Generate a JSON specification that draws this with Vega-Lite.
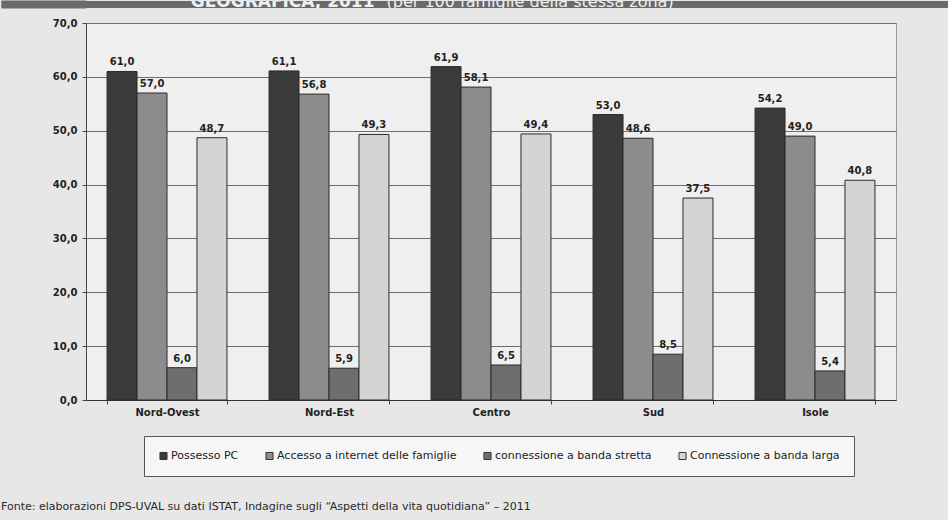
{
  "$schema": "https://vega.github.io/schema/vega-lite/v6.json",
  "background": "#e7e7e7",
  "padding": {"left": 0, "top": 0, "right": 0, "bottom": 8},
  "config": {
    "locale": {"number": {"decimal": ",", "thousands": ".", "grouping": [3], "currency": ["", " €"]}},
    "font": "DejaVu Sans",
    "view": {"stroke": null}
  },
  "title": {
    "text": "Fonte: elaborazioni DPS-UVAL su dati ISTAT, Indagine sugli “Aspetti della vita quotidiana” – 2011",
    "orient": "bottom",
    "anchor": "start",
    "frame": "group",
    "offset": 24,
    "dx": -85,
    "font": "DejaVu Sans",
    "fontSize": 11,
    "fontWeight": "normal",
    "color": "#2a2a2a"
  },
  "spacing": 9,
  "vconcat": [
    {
      "width": 863,
      "height": 7,
      "view": {"fill": "#6a6a6a", "stroke": null},
      "data": {"values": [{"t1": "GEOGRAFICA, 2011", "t2": "(per 100 famiglie della stessa zona)"}]},
      "encoding": {
        "y": {
          "datum": 3.5,
          "type": "quantitative",
          "scale": {"domain": [0, 7], "nice": false},
          "axis": {"orient": "left", "title": null, "labels": false, "grid": false, "domain": false, "values": [0.75, 1.75, 2.75, 3.75, 4.75, 5.75, 6.5], "ticks": true, "tickSize": 85, "tickWidth": 2, "tickColor": "#6a6a6a", "tickCap": "butt"}
        }
      },
      "layer": [
        {
          "mark": {"type": "text", "clip": true, "align": "right", "baseline": "alphabetic", "dx": -143, "dy": 2.5, "fontSize": 17, "fontWeight": "bold", "color": "#f0f0f0"},
          "encoding": {"text": {"field": "t1"}}
        },
        {
          "mark": {"type": "text", "clip": true, "align": "left", "baseline": "alphabetic", "dx": -131, "dy": 2.5, "fontSize": 16, "fontWeight": "normal", "color": "#f0f0f0"},
          "encoding": {"text": {"field": "t2"}}
        }
      ]
    },
    {
      "width": 810,
      "height": 377,
      "view": {"fill": "#efefef", "stroke": "#9a9a9a"},
      "data": {
        "values": [
          {"zona": "Nord-Ovest", "serie": "Possesso PC", "valore": 61.0},
          {"zona": "Nord-Ovest", "serie": "Accesso a internet delle famiglie", "valore": 57.0},
          {"zona": "Nord-Ovest", "serie": "connessione a banda stretta", "valore": 6.0},
          {"zona": "Nord-Ovest", "serie": "Connessione a banda larga", "valore": 48.7},
          {"zona": "Nord-Est", "serie": "Possesso PC", "valore": 61.1},
          {"zona": "Nord-Est", "serie": "Accesso a internet delle famiglie", "valore": 56.8},
          {"zona": "Nord-Est", "serie": "connessione a banda stretta", "valore": 5.9},
          {"zona": "Nord-Est", "serie": "Connessione a banda larga", "valore": 49.3},
          {"zona": "Centro", "serie": "Possesso PC", "valore": 61.9},
          {"zona": "Centro", "serie": "Accesso a internet delle famiglie", "valore": 58.1},
          {"zona": "Centro", "serie": "connessione a banda stretta", "valore": 6.5},
          {"zona": "Centro", "serie": "Connessione a banda larga", "valore": 49.4},
          {"zona": "Sud", "serie": "Possesso PC", "valore": 53.0},
          {"zona": "Sud", "serie": "Accesso a internet delle famiglie", "valore": 48.6},
          {"zona": "Sud", "serie": "connessione a banda stretta", "valore": 8.5},
          {"zona": "Sud", "serie": "Connessione a banda larga", "valore": 37.5},
          {"zona": "Isole", "serie": "Possesso PC", "valore": 54.2},
          {"zona": "Isole", "serie": "Accesso a internet delle famiglie", "valore": 49.0},
          {"zona": "Isole", "serie": "connessione a banda stretta", "valore": 5.4},
          {"zona": "Isole", "serie": "Connessione a banda larga", "valore": 40.8}
        ]
      },
      "encoding": {
        "x": {
          "field": "zona",
          "type": "nominal",
          "sort": ["Nord-Ovest", "Nord-Est", "Centro", "Sud", "Isole"],
          "scale": {"paddingInner": 0.26, "paddingOuter": 0.13},
          "axis": {
            "title": null,
            "labelAngle": 0,
            "labelFont": "DejaVu Sans",
            "labelFontWeight": "bold",
            "labelFontSize": 10,
            "labelColor": "#222222",
            "labelPadding": 3,
            "tickBand": "extent",
            "tickSize": 4,
            "tickColor": "#444444",
            "domainColor": "#333333",
            "grid": false
          }
        },
        "xOffset": {
          "field": "serie",
          "type": "nominal",
          "sort": ["Possesso PC", "Accesso a internet delle famiglie", "connessione a banda stretta", "Connessione a banda larga"],
          "scale": {"paddingInner": 0, "paddingOuter": 0}
        },
        "y": {
          "field": "valore",
          "type": "quantitative",
          "scale": {"domain": [0, 70], "nice": false},
          "axis": {
            "title": null,
            "values": [0, 10, 20, 30, 40, 50, 60, 70],
            "format": ".1f",
            "labelFont": "DejaVu Sans",
            "labelFontWeight": "bold",
            "labelFontSize": 10,
            "labelColor": "#222222",
            "labelPadding": 5,
            "tickSize": 4,
            "tickColor": "#444444",
            "domainColor": "#444444",
            "grid": true,
            "gridColor": "#6e6e6e",
            "gridWidth": 1
          }
        }
      },
      "layer": [
        {
          "mark": {"type": "bar", "stroke": "#2b2b2b", "strokeWidth": 1},
          "encoding": {
            "color": {
              "field": "serie",
              "type": "nominal",
              "sort": ["Possesso PC", "Accesso a internet delle famiglie", "connessione a banda stretta", "Connessione a banda larga"],
              "scale": {
                "domain": ["Possesso PC", "Accesso a internet delle famiglie", "connessione a banda stretta", "Connessione a banda larga"],
                "range": ["#3b3b3b", "#8c8c8c", "#6e6e6e", "#d4d4d4"]
              },
              "legend": {
                "orient": "none",
                "legendX": 58,
                "legendY": 435,
                "direction": "horizontal",
                "columns": 4,
                "title": null,
                "symbolType": "square",
                "symbolSize": 50,
                "symbolStrokeColor": "#333333",
                "symbolStrokeWidth": 1,
                "labelFont": "DejaVu Sans",
                "labelFontSize": 11,
                "labelLimit": 400,
                "labelColor": "#222222",
                "labelOffset": 2,
                "columnPadding": 24,
                "padding": 14,
                "strokeColor": "#555555",
                "fillColor": "#f6f6f6"
              }
            }
          }
        },
        {
          "mark": {"type": "text", "baseline": "bottom", "dy": -4, "fontWeight": "bold", "fontSize": 10, "color": "#222222"},
          "encoding": {
            "text": {"field": "valore", "type": "quantitative", "format": ".1f"}
          }
        }
      ]
    }
  ]
}
